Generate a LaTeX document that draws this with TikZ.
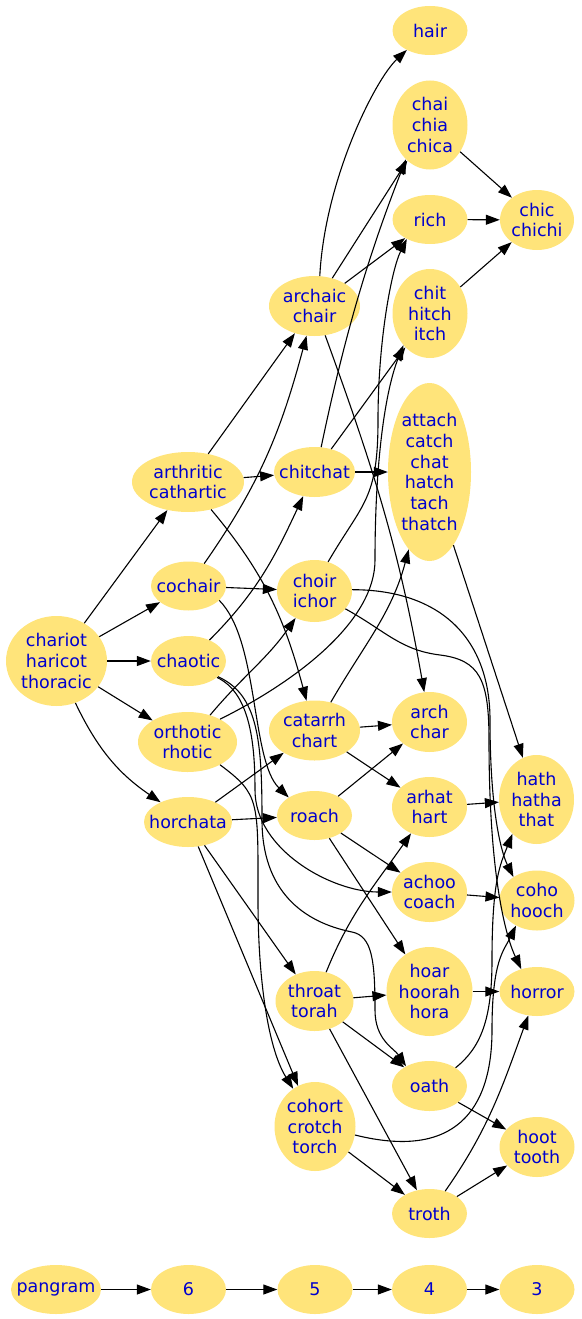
\documentclass[tikz,border=0pt]{standalone}
\usepackage{fontspec}
\setmainfont{DejaVu Sans}
\usetikzlibrary{shapes.geometric,arrows.meta}
\definecolor{wordfill}{RGB}{255,228,122}
\definecolor{wordink}{RGB}{0,0,205}

\begin{document}
\begin{tikzpicture}[x=1pt,y=-1pt,
  word/.style={ellipse,fill=wordfill,inner sep=0pt,minimum width=75pt,minimum height=49pt},
  wtext/.style={text=wordink,align=center,inner sep=0pt,font=\fontsize{17.5}{20.7}\selectfont},
  edge/.style={line width=1.1pt,-{Triangle[length=14pt,width=10pt]}}]
\useasboundingbox (0,0) rectangle (581,1319);

\node[word,label={[wtext]center:hair}] (hair) at (430,30.5) {};
\node[word,minimum height=89pt,label={[wtext]center:{chai\\chia\\chica}}] (chai) at (430,125) {};
\node[word,minimum width=74pt,minimum height=60pt,label={[wtext]center:{chic\\chichi}}] (chic) at (537,220) {};
\node[word,label={[wtext]center:rich}] (rich) at (430,219.5) {};
\node[word,minimum height=89pt,label={[wtext]center:{chit\\hitch\\itch}}] (chit) at (430,313.5) {};
\node[word,minimum width=91pt,minimum height=60pt,label={[wtext]center:{archaic\\chair}}] (archaic) at (314.5,306) {};
\node[word,minimum width=83pt,minimum height=178pt,label={[wtext]center:{attach\\catch\\chat\\hatch\\tach\\thatch}}] (attach) at (429.5,472) {};
\node[word,minimum width=112pt,minimum height=60pt,label={[wtext]center:{arthritic\\cathartic}}] (arthritic) at (188,482) {};
\node[word,minimum width=81pt,minimum height=50pt,label={[wtext]center:chitchat}] (chitchat) at (314.5,472) {};
\node[word,label={[wtext]center:cochair}] (cochair) at (188.5,586) {};
\node[word,minimum height=62pt,label={[wtext]center:{choir\\ichor}}] (choir) at (314.5,591) {};
\node[word,minimum width=101pt,minimum height=90pt,label={[wtext]center:{chariot\\haricot\\thoracic}}] (chariot) at (56.5,661) {};
\node[word,minimum height=50pt,label={[wtext]center:chaotic}] (chaotic) at (188.5,661) {};
\node[word,minimum width=99pt,minimum height=60pt,label={[wtext]center:{orthotic\\rhotic}}] (orthotic) at (187.5,742) {};
\node[word,minimum width=91pt,minimum height=60pt,label={[wtext]center:{catarrh\\chart}}] (catarrh) at (314.5,730.5) {};
\node[word,minimum height=60pt,label={[wtext]center:{arch\\char}}] (arch) at (429.5,722) {};
\node[word,minimum height=89pt,label={[wtext]center:{hath\\hatha\\that}}] (hath) at (536.5,799.5) {};
\node[word,minimum width=88pt,minimum height=50pt,label={[wtext]center:horchata}] (horchata) at (188,822) {};
\node[word,label={[wtext]center:roach}] (roach) at (314.5,815.5) {};
\node[word,minimum height=60pt,label={[wtext]center:{arhat\\hart}}] (arhat) at (429.5,807) {};
\node[word,minimum height=60pt,label={[wtext]center:{achoo\\coach}}] (achoo) at (429.5,892) {};
\node[word,minimum height=60pt,label={[wtext]center:{coho\\hooch}}] (coho) at (537,900.5) {};
\node[word,minimum width=78pt,minimum height=60pt,label={[wtext]center:{throat\\torah}}] (throat) at (314.5,1001) {};
\node[word,minimum width=86pt,minimum height=89pt,label={[wtext]center:{hoar\\hoorah\\hora}}] (hoar) at (429.5,991.5) {};
\node[word,label={[wtext]center:horror}] (horror) at (537,991.5) {};
\node[word,minimum height=50pt,label={[wtext]center:oath}] (oath) at (429.5,1086) {};
\node[word,minimum width=81pt,minimum height=89pt,label={[wtext]center:{cohort\\crotch\\torch}}] (cohort) at (315,1126.5) {};
\node[word,minimum height=60pt,label={[wtext]center:{hoot\\tooth}}] (hoot) at (537,1147) {};
\node[word,label={[wtext]center:troth}] (troth) at (429.5,1213.5) {};
\node[word,minimum width=90pt,label={[wtext]center:pangram}] (pangram) at (56,1289.5) {};
\node[word,label={[wtext]center:6}] (six) at (188.5,1289.5) {};
\node[word,label={[wtext]center:5}] (five) at (315,1289.5) {};
\node[word,label={[wtext]center:4}] (four) at (429.5,1289.5) {};
\node[word,label={[wtext]center:3}] (three) at (537,1289.5) {};

\foreach \a/\b in {chariot/arthritic,chariot/cochair,chariot/chaotic,chariot/orthotic,
  arthritic/archaic,arthritic/chitchat,cochair/choir,
  horchata/catarrh,horchata/roach,horchata/throat,horchata/cohort,
  archaic/chai,archaic/rich,chitchat/chit,chitchat/attach,
  catarrh/arch,catarrh/arhat,roach/arch,roach/achoo,roach/hoar,
  throat/hoar,throat/oath,throat/troth,cohort/troth,
  chai/chic,rich/chic,chit/chic,attach/hath,arhat/hath,achoo/coho,hoar/horror,
  oath/hoot,troth/hoot,pangram/six,six/five,five/four,four/three}{
  \draw[edge] (\a) -- (\b);
}
\draw[edge] (chariot) to[bend right=15] (horchata);
\draw[edge] (arthritic) to[out=-50,in=105] (catarrh);
\draw[edge] (cochair) to[out=55,in=-105] (archaic);
\draw[edge] (cochair.-25) .. controls +(40,40) and +(-38,-37) .. (roach.145);
\draw[edge] (chaotic) to[out=45,in=-115] (chitchat);
\draw[edge] (chaotic.-30) .. controls +(32,15) and +(0,-50) .. (255,790) .. controls +(0,60) and +(-60,0) .. (achoo.west);
\draw[edge] (chaotic.-28) .. controls +(40,18) and +(0,-80) .. (262,820) .. controls +(0,70) and +(-50,-10) .. (352,932) .. controls +(20,4) and +(0,-50) .. (375,1010) .. controls +(0,30) and +(-12,-18) .. (oath.140);
\draw[edge] (orthotic) to[out=50,in=-125] (choir);
\draw[edge] (orthotic.35) .. controls +(80,-40) and +(0,60) .. (375,560) .. controls +(0,-100) and +(-18,45) .. (chit.-130);
\draw[edge] (orthotic.-35) .. controls +(40,30) and +(0,-100) .. (258,900) .. controls +(0,80) and +(-25,-40) .. (cohort.120);
\draw[edge] (catarrh) to[out=60,in=-105] (attach);
\draw[edge] (throat) to[out=68,in=-125] (arhat);
\draw[edge] (cohort.-12) .. controls +(100,25) and +(0,80) .. (492,1030) .. controls +(0,-70) and +(-12,25) .. (coho.-130);
\draw[edge] (oath.35) .. controls +(25,-20) and +(0,60) .. (492,960) .. controls +(0,-80) and +(-12,30) .. (hath.-125);
\draw[edge] (choir.2) .. controls +(90,0) and +(0,-80) .. (490,720) .. controls +(0,100) and +(-10,-20) .. (coho.135);
\draw[edge] (choir.-30) .. controls +(40,22) and +(-40,-5) .. (440,655) .. controls +(40,5) and +(0,-60) .. (489,740) .. controls +(0,150) and +(-12,-25) .. (horror.125);
\draw[edge] (chitchat.75) .. controls +(25,-120) and +(-35,90) .. (chai.-125);
\draw[edge] (choir.65) .. controls +(35,-60) and +(0,80) .. (378,420) .. controls +(0,-80) and +(-15,30) .. (rich.-140);
\draw[edge] (archaic.80) .. controls +(5,-96) and +(-32,30) .. (hair.-140);
\draw[edge] (archaic) to[out=-70,in=100] (arch);
\draw[edge] (troth) to[out=55,in=-110] (horror);
\end{tikzpicture}
\end{document}
